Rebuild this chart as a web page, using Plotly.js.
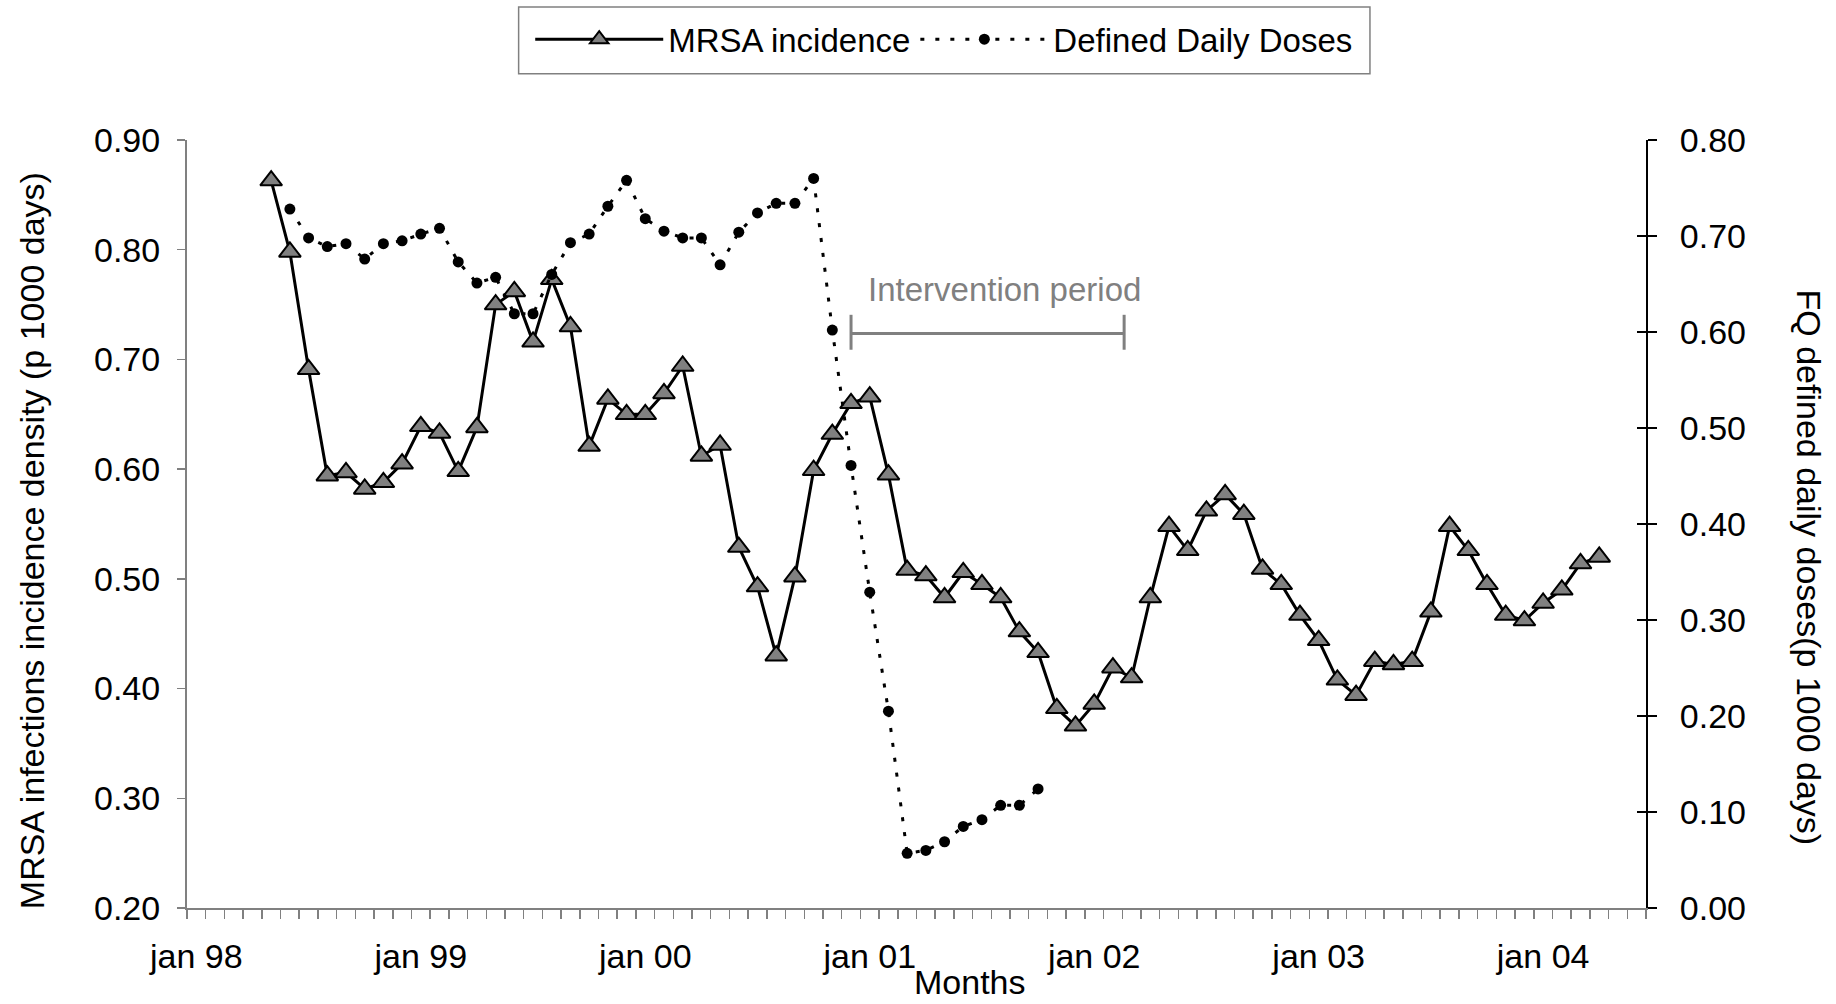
<!DOCTYPE html>
<html><head><meta charset="utf-8">
<script src="https://cdn.plot.ly/plotly-3.0.1.min.js"></script>
<style>html,body{margin:0;padding:0;background:#fff}#chart{width:1836px;height:1004px}</style>
</head><body><div id="chart"></div>
<script>
const monthNames = ['jan','feb','mar','apr','may','jun','jul','aug','sep','oct','nov','dec'];
const yearLabels = ['98','99','00','01','02','03','04'];
const lastMonth = 'jun 04';

const mrsaName = 'MRSA incidence';
const mrsaStart = 'may 98';
const mrsaValues = [
  0.863, 0.798, 0.691, 0.594, 0.597, 0.582, 0.588, 0.605, 0.639, 0.633, 0.598, 0.638,
  0.750, 0.762, 0.716, 0.773, 0.730, 0.621, 0.664, 0.650, 0.650, 0.669, 0.694, 0.612,
  0.622, 0.529, 0.493, 0.430, 0.502, 0.599, 0.632, 0.660, 0.666, 0.595, 0.508, 0.503,
  0.483, 0.506, 0.495, 0.483, 0.452, 0.433, 0.382, 0.366, 0.386, 0.419, 0.410, 0.483,
  0.548, 0.526, 0.562, 0.577, 0.559, 0.509, 0.495, 0.467, 0.444, 0.408, 0.394, 0.425,
  0.422, 0.425, 0.470, 0.548, 0.526, 0.495, 0.467, 0.462, 0.478, 0.490, 0.514, 0.520
];

const dddName = 'Defined Daily Doses';
const dddStart = 'jun 98';
const dddValues = [
  0.728, 0.698, 0.689, 0.692, 0.676, 0.692, 0.695, 0.702, 0.708, 0.673,
  0.651, 0.657, 0.619, 0.619, 0.660, 0.693, 0.702, 0.731, 0.758, 0.718,
  0.705, 0.698, 0.698, 0.670, 0.704, 0.724, 0.734, 0.734, 0.760, 0.602,
  0.461, 0.329, 0.205, 0.057, 0.060, 0.069, 0.085, 0.092, 0.107, 0.107, 0.124
];

const leftTitle = 'MRSA infections incidence density (p 1000 days)';
const rightTitle = 'FQ defined daily doses(p 1000 days)';
const xTitle = 'Months';
const interventionLabel = 'Intervention period';

// month slots on the category axis
const months = [];
for (const y of yearLabels) for (const m of monthNames) months.push(m + ' ' + y);
const axisMonths = months.slice(0, months.indexOf(lastMonth) + 1);
const idx = m => axisMonths.indexOf(m);
const yearTicks = axisMonths.filter(m => m.startsWith('jan'));

const mrsaX = mrsaValues.map((_, i) => idx(mrsaStart) + i);
const dddX = dddValues.map((_, i) => idx(dddStart) + i);

const FONT = 'Liberation Sans, Arial, Helvetica, sans-serif';
const GREY = '#808080';
const FS = 34;

const traces = [
  {
    name: mrsaName, x: mrsaX, y: mrsaValues, yaxis: 'y', type: 'scatter',
    mode: 'lines+markers',
    line: {color: '#000', width: 3},
    marker: {symbol: 'triangle-up', size: 19, color: GREY, line: {color: '#000', width: 2}}
  },
  {
    name: dddName, x: dddX, y: dddValues, yaxis: 'y2', type: 'scatter',
    mode: 'lines+markers',
    line: {color: '#000', width: 3, dash: '4px,11px'},
    marker: {symbol: 'circle', size: 11, color: '#000'}
  },
  {x: [], y: [], yaxis: 'y3', type: 'scatter', showlegend: false, hoverinfo: 'skip'}
];

const layout = {
  width: 1836, height: 1004,
  margin: {l: 187, r: 190, t: 139, b: 96},
  paper_bgcolor: '#fff', plot_bgcolor: '#fff',
  font: {family: FONT, size: FS, color: '#000'},
  showlegend: true,
  legend: {
    orientation: 'h', x: 0.519, xanchor: 'center', y: 1.1298, yanchor: 'middle',
    borderwidth: 0, bgcolor: 'rgba(0,0,0,0)',
    font: {family: FONT, size: 33, color: '#000'},
    itemwidth: 128, tracegroupgap: 0
  },
  xaxis: {
    type: 'linear', range: [-0.5, axisMonths.length - 0.5],
    tickmode: 'array', tickvals: yearTicks.map(idx), ticktext: yearTicks,
    ticks: '', ticklabelstandoff: 17,
    tickfont: {family: FONT, size: FS, color: '#000'},
    minor: {tickmode: 'linear', tick0: -0.5, dtick: 1, ticks: 'outside', ticklen: 9, tickwidth: 1.5, tickcolor: GREY},
    showline: true, linecolor: GREY, linewidth: 2,
    showgrid: false, zeroline: false, fixedrange: true
  },
  yaxis: {
    range: [0.2, 0.9], tickmode: 'linear', tick0: 0.2, dtick: 0.1, tickformat: '.2f',
    ticks: 'outside', ticklen: 8, tickwidth: 1.5, tickcolor: GREY, ticklabelstandoff: 10,
    tickfont: {family: FONT, size: FS, color: '#000'},
    showline: true, linecolor: GREY, linewidth: 2,
    showgrid: false, zeroline: false, fixedrange: true
  },
  yaxis2: {
    overlaying: 'y', side: 'right', anchor: 'x',
    range: [0, 0.8], tickmode: 'linear', tick0: 0, dtick: 0.1, tickformat: '.2f',
    ticks: 'outside', ticklen: 9, tickwidth: 1.5, tickcolor: '#000', ticklabelstandoff: 16,
    tickfont: {family: FONT, size: FS, color: '#000'},
    showline: true, linecolor: '#000', linewidth: 2,
    showgrid: false, zeroline: false, fixedrange: true
  },
  yaxis3: {
    overlaying: 'y', side: 'right', anchor: 'x',
    range: [0, 0.8], tickmode: 'linear', tick0: 0, dtick: 0.1,
    ticks: 'inside', ticklen: 9, tickwidth: 1.5, tickcolor: '#000',
    showticklabels: false, showline: false, showgrid: false, zeroline: false, fixedrange: true
  },
  shapes: [
    // legend frame
    {type: 'rect', xref: 'paper', yref: 'paper', x0: 0.2273, x1: 0.8108, y0: 1.0863, y1: 1.1731,
     line: {color: GREY, width: 1.5}, fillcolor: 'rgba(0,0,0,0)', layer: 'below'},
    // intervention bracket
    {type: 'line', xref: 'x', yref: 'paper', x0: 35, x1: 49.6, y0: 0.7482, y1: 0.7482, line: {color: GREY, width: 3}},
    {type: 'line', xref: 'x', yref: 'paper', x0: 35, x1: 35, y0: 0.7269, y1: 0.7724, line: {color: GREY, width: 3}},
    {type: 'line', xref: 'x', yref: 'paper', x0: 49.6, x1: 49.6, y0: 0.7269, y1: 0.7724, line: {color: GREY, width: 3}}
  ],
  annotations: [
    {text: interventionLabel, xref: 'paper', yref: 'paper', x: 0.5604, y: 0.805, xanchor: 'center', yanchor: 'middle',
     showarrow: false, font: {family: FONT, size: 33, color: GREY}},
    {text: leftTitle, xref: 'paper', yref: 'paper', x: -0.1065, y: 0.4785, xanchor: 'center', yanchor: 'middle',
     textangle: -90, showarrow: false, font: {family: FONT, size: FS, color: '#000'}},
    {text: rightTitle, xref: 'paper', yref: 'paper', x: 1.1117, y: 0.4434, xanchor: 'center', yanchor: 'middle',
     textangle: 90, showarrow: false, font: {family: FONT, size: FS, color: '#000'}},
    {text: xTitle, xref: 'paper', yref: 'paper', x: 0.5364, y: -0.097, xanchor: 'center', yanchor: 'middle',
     showarrow: false, font: {family: FONT, size: FS, color: '#000'}}
  ],
  hovermode: false
};

Plotly.newPlot('chart', traces, layout, {displayModeBar: false, staticPlot: true});
</script>
</body></html>
